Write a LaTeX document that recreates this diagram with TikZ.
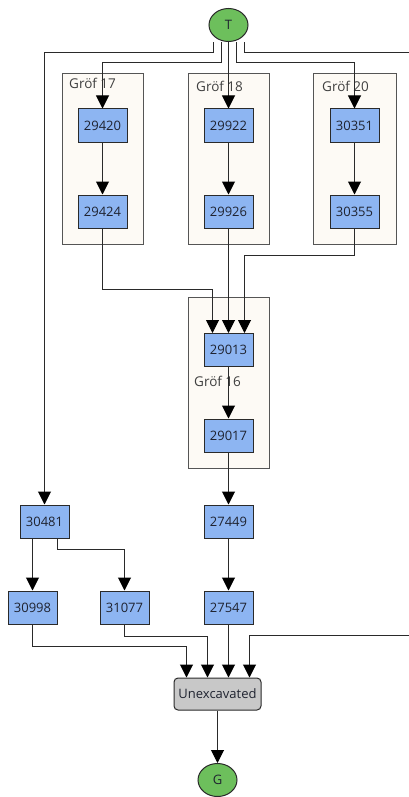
\documentclass[tikz,border=0pt]{standalone}
\usepackage{fontspec}
\setmainfont{Open Sans}
\usetikzlibrary{arrows.meta,shapes.geometric,calc}
\definecolor{lineC}{HTML}{2A2A2A}
\definecolor{blueF}{HTML}{8DB5F2}
\definecolor{greenF}{HTML}{6DBF5C}
\definecolor{grayF}{HTML}{C8C8C8}
\definecolor{grpF}{HTML}{FDFAF5}
\definecolor{grpD}{HTML}{555555}
\definecolor{txtC}{HTML}{1F2330}
\tikzset{
  blu/.style={draw=lineC,line width=1pt,fill=blueF,minimum width=49pt,minimum height=33pt,inner sep=0pt,font=\fontsize{13}{15}\selectfont,text=txtC},
  term/.style={ellipse,draw=lineC,line width=1pt,fill=greenF,minimum width=39pt,minimum height=33pt,inner sep=0pt,font=\fontsize{13}{15}\selectfont,text=txtC},
  unex/.style={draw=lineC,line width=1pt,fill=grayF,rounded corners=4pt,minimum width=87pt,minimum height=32pt,inner sep=0pt,font=\fontsize{13}{15}\selectfont,text=txtC},
  grp/.style={draw=grpD,line width=1pt,fill=grpF},
  glab/.style={anchor=west,inner sep=0pt,font=\fontsize{13.5}{15}\selectfont,text=black!75},
  arr/.style={draw=lineC,line width=1pt,-{Triangle[width=13pt,length=13pt,color=black]}},
}
\begin{document}
\begin{tikzpicture}[x=1pt,y=-1pt]
\clip (0,0) rectangle (409,797);
\fill[white] (0,0) rectangle (409,797);
% group boxes
\draw[grp] (62.5,73.5) rectangle (143.5,244.5);
\draw[grp] (188.5,73.5) rectangle (269.5,244.5);
\draw[grp] (313.5,73.5) rectangle (396.5,244.5);
\draw[grp] (188.5,297.5) rectangle (269.5,468.5);
\node[glab] (g17) at (69,83) {Gröf 17};
\node[glab] (g18) at (196,86) {Gröf 18};
\node[glab] (g20) at (322,86) {Gröf 20};
\node[glab] (g16) at (194,381) {Gröf 16};
% nodes
\node[term] (T) at (228.5,25) {T};
\node[blu] (n29420) at (102.5,125.5) {29420};
\node[blu] (n29424) at (102.5,211.5) {29424};
\node[blu] (n29922) at (228.5,125.5) {29922};
\node[blu] (n29926) at (228.5,211.5) {29926};
\node[blu] (n30351) at (354.5,125.5) {30351};
\node[blu] (n30355) at (354.5,211.5) {30355};
\node[blu] (n29013) at (228.5,350) {29013};
\node[blu] (n29017) at (228.5,435.5) {29017};
\node[blu] (n30481) at (44.5,521.5) {30481};
\node[blu] (n27449) at (228.5,521.5) {27449};
\node[blu] (n30998) at (32.5,607.5) {30998};
\node[blu] (n31077) at (124.5,607.5) {31077};
\node[blu] (n27547) at (228.5,607.5) {27547};
\node[unex] (nU) at (217.5,694) {Unexcavated};
\node[term] (G) at (217.5,780) {G};
% ports
\coordinate (t1) at (213.5,42.5);
\coordinate (t2) at (221.5,42.5);
\coordinate (t3) at (228.5,42.5);
\coordinate (t4) at (236.5,42.5);
\coordinate (t5) at (244.5,42.5);
\coordinate (p1) at ([xshift=-16pt]n29013.north);
\coordinate (p3) at ([xshift=16pt]n29013.north);
\coordinate (u1) at ([xshift=-31pt]nU.north);
\coordinate (u2) at ([xshift=-10pt]nU.north);
\coordinate (u3) at (n27547.south |- nU.north);
\coordinate (u4) at ([xshift=32pt]nU.north);
\coordinate (far1) at (420,52.5);
\coordinate (far2) at (420,635.5);
% edges
\draw[arr] (t1) -- ++(0,10) -| (n30481.north);
\draw[arr] (t2) -- ++(0,20) -| (n29420.north);
\draw[arr] (t3) -- (n29922.north);
\draw[arr] (t4) -- ++(0,20) -| (n30351.north);
\draw[arr] (t5) -- ++(0,10) -- (far1) -- (far2) -| (u4);
\draw[arr] (n29420) -- (n29424);
\draw[arr] (n29922) -- (n29926);
\draw[arr] (n30351) -- (n30355);
\draw[arr] (n29424.south) -- ++(0,60.5) -| (p1);
\draw[arr] (n29926) -- (n29013);
\draw[arr] (n30355.south) -- ++(0,26.5) -| (p3);
\draw[arr] (n29013) -- (n29017);
\draw[arr] (n29017) -- (n27449);
\draw[arr] (n27449) -- (n27547);
\draw[arr] (n30481.south -| n30998.north) -- (n30998.north);
\draw[arr] ([xshift=12.5pt]n30481.south) -- ++(0,10.5) -| (n31077.north);
\draw[arr] (n30998.south) -- ++(0,21.5) -| (u1);
\draw[arr] (n31077.south) -- ++(0,11.5) -| (u2);
\draw[arr] (n27547.south) -- (u3);
\draw[arr] (nU) -- (G);
\end{tikzpicture}
\end{document}
